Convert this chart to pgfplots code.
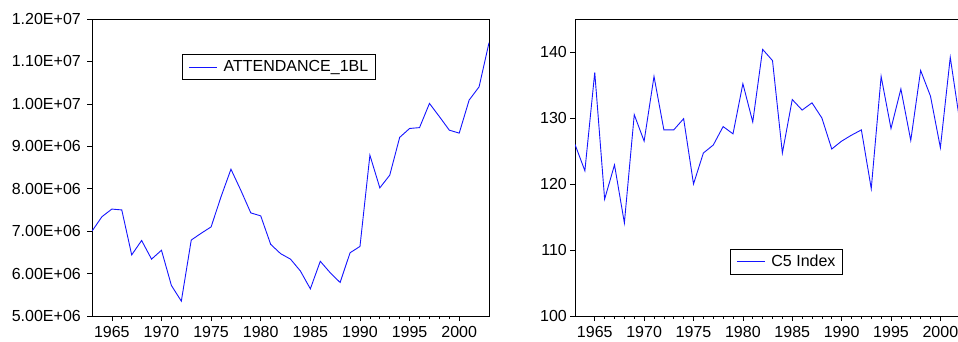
\documentclass[border=0pt]{standalone}
\usepackage{pgfplots}
\pgfplotsset{compat=1.18}
\usepackage{fontspec}
\setmainfont{Liberation Sans}
\definecolor{serblue}{RGB}{20,20,255}
\pgfplotsset{
  evstyle/.style={
    scale only axis,
    anchor=south west,
    height=297bp,
    xmin=1963, xmax=2003,
    xtick={1965,1970,...,2000},
    minor x tick num=4,
    tick align=outside,
    xtick pos=bottom, ytick pos=left,
    major tick length=5bp, minor tick length=3bp,
    axis line style={black, line width=0.8bp},
    every tick/.style={black, line width=0.7bp},
    tick label style={font=\fontsize{16bp}{19bp}\selectfont},
    scaled y ticks=false,
    /pgf/number format/1000 sep={},
    /pgf/number format/assume math mode=true,
    xticklabel style={inner sep=0pt, yshift=-5bp},
    legend image code/.code={\draw[##1] (0bp,0bp) -- (28bp,0bp);},
    legend style={draw=black, line width=0.8bp, fill=white,
      inner xsep=6bp, inner ysep=5bp,
      nodes={inner sep=1bp},
      font=\fontsize{16bp}{19bp}\selectfont,
      /tikz/every odd column/.append style={column sep=5bp}},
    legend cell align=left,
  },
}
\begin{document}
\begin{tikzpicture}
\begin{axis}[evstyle,
  at={(92bp,26bp)}, width=397bp,
  ymin=5e6, ymax=1.2e7,
  ytick={5e6,6e6,7e6,8e6,9e6,1e7,1.1e7,1.2e7},
  yticklabels={5.00E+06,6.00E+06,7.00E+06,8.00E+06,9.00E+06,1.00E+07,1.10E+07,1.20E+07},
  yticklabel style={inner sep=0pt, xshift=-6bp},
  legend style={at={(0.471,0.838)}, anchor=center},
]
\addplot[serblue, line width=0.9bp] coordinates {
(1963,7.00e6) (1964,7.34e6) (1965,7.52e6) (1966,7.50e6) (1967,6.44e6)
(1968,6.78e6) (1969,6.34e6) (1970,6.55e6) (1971,5.72e6) (1972,5.35e6)
(1973,6.79e6) (1974,6.95e6) (1975,7.10e6) (1976,7.81e6) (1977,8.46e6)
(1978,7.96e6) (1979,7.43e6) (1980,7.36e6) (1981,6.69e6) (1982,6.47e6)
(1983,6.34e6) (1984,6.06e6) (1985,5.64e6) (1986,6.29e6) (1987,6.02e6)
(1988,5.79e6) (1989,6.49e6) (1990,6.64e6) (1991,8.79e6) (1992,8.02e6)
(1993,8.32e6) (1994,9.21e6) (1995,9.42e6) (1996,9.44e6) (1997,10.01e6)
(1998,9.70e6) (1999,9.38e6) (2000,9.31e6) (2001,10.09e6) (2002,10.40e6)
(2003,11.44e6)
};
\addlegendentry{ATTENDANCE\_1BL}
\end{axis}
\begin{axis}[evstyle,
  at={(575bp,26bp)}, width=395bp,
  ymin=100, ymax=145,
  ytick={100,110,120,130,140},
  yticklabel style={inner sep=0pt, xshift=-3bp},
  legend style={at={(0.5354,0.1825)}, anchor=center},
]
\addplot[serblue, line width=0.9bp] coordinates {
(1963,126.0) (1964,122.0) (1965,136.9) (1966,117.7) (1967,122.9)
(1968,114.1) (1969,130.5) (1970,126.5) (1971,136.3) (1972,128.2)
(1973,128.2) (1974,129.9) (1975,120.0) (1976,124.7) (1977,125.9)
(1978,128.7) (1979,127.6) (1980,135.2) (1981,129.4) (1982,140.4)
(1983,138.7) (1984,124.7) (1985,132.8) (1986,131.2) (1987,132.3)
(1988,130.0) (1989,125.3) (1990,126.5) (1991,127.4) (1992,128.2)
(1993,119.3) (1994,136.3) (1995,128.4) (1996,134.4) (1997,126.6)
(1998,137.2) (1999,133.3) (2000,125.5) (2001,139.2) (2002,129.1)
(2003,133.0)
};
\addlegendentry{C5 Index}
\end{axis}
\pgfresetboundingbox
\path (0bp,0bp) rectangle (958bp,342bp);
\end{tikzpicture}
\end{document}
